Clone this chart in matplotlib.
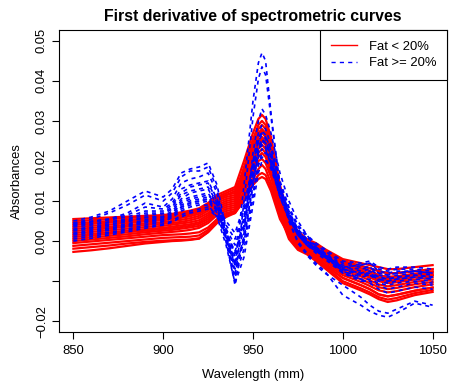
import numpy as np
import matplotlib
matplotlib.use("Agg")
import matplotlib.pyplot as plt

plt.rcParams['font.family'] = ['Liberation Sans', 'DejaVu Sans']

wavelength = [850, 860, 870, 880, 890, 900, 905, 910, 915, 920, 925, 930,
              935, 940, 945, 950, 953, 955, 957, 960, 965,
              970, 975, 980, 985, 990, 1000, 1010, 1015, 1020, 1025, 1030, 1040, 1050]

# first derivative values, in units of 1e-3
# fat < 20%
red_curves = [
    [5.5, 5.7, 5.9, 6.1, 6.3, 6.5, 6.8, 7.2, 7.6, 8.2, 9.5, 11.5, 12.5, 13.5, 20.0, 27.0, 30.5, 31.5, 30.5, 26.0, 14.0, 6.0, 2.5, 0.5, -0.5, -2.0, -4.5, -5.5, -6.0, -6.5, -7.0, -7.0, -6.5, -6.0],
    [5.0, 5.2, 5.5, 5.8, 6.0, 6.2, 6.5, 6.9, 7.3, 7.9, 9.1, 11.0, 12.0, 13.0, 17.0, 23.0, 26.5, 27.5, 26.5, 22.5, 11.5, 5.5, 2.0, 0.0, -1.0, -2.5, -5.0, -6.2, -6.8, -7.5, -8.0, -8.0, -7.5, -7.0],
    [4.5, 4.7, 5.0, 5.3, 5.6, 5.8, 6.1, 6.5, 6.9, 7.5, 8.7, 10.6, 11.5, 12.5, 17.5, 24.5, 28.0, 29.0, 28.0, 24.0, 12.5, 5.0, 1.5, -0.3, -1.5, -3.0, -5.5, -6.8, -7.5, -8.5, -9.0, -8.8, -8.2, -7.6],
    [4.0, 4.3, 4.6, 4.9, 5.2, 5.5, 5.8, 6.2, 6.6, 7.2, 8.5, 10.5, 11.5, 12.0, 18.5, 25.5, 29.0, 30.0, 29.0, 25.0, 13.0, 4.5, 1.0, -0.6, -2.0, -3.5, -6.0, -7.3, -8.1, -9.0, -9.5, -9.3, -8.6, -8.0],
    [3.5, 3.8, 4.1, 4.5, 4.9, 5.2, 5.5, 5.8, 6.2, 6.8, 8.1, 10.1, 11.0, 11.5, 16.0, 22.5, 26.0, 27.0, 26.0, 22.0, 11.0, 5.5, 2.0, 0.0, -1.0, -2.5, -5.0, -6.2, -6.8, -7.5, -8.0, -8.0, -7.5, -7.0],
    [3.0, 3.3, 3.6, 4.0, 4.4, 4.7, 5.0, 5.3, 5.7, 6.3, 7.6, 9.6, 10.5, 11.0, 17.0, 23.5, 27.0, 28.0, 27.0, 23.0, 12.0, 4.0, 0.5, -1.0, -2.5, -4.0, -6.5, -7.8, -8.6, -9.5, -10.0, -9.8, -9.0, -8.5],
    [2.5, 2.8, 3.2, 3.6, 4.0, 4.3, 4.5, 4.8, 5.2, 5.8, 7.0, 9.0, 10.0, 10.5, 15.0, 21.0, 24.0, 25.0, 24.0, 20.0, 10.0, 3.5, 0.0, -1.3, -2.8, -4.3, -7.0, -8.3, -9.1, -10.0, -10.5, -10.3, -9.6, -9.0],
    [2.0, 2.3, 2.7, 3.1, 3.5, 3.8, 4.1, 4.4, 4.7, 5.2, 6.5, 8.5, 9.5, 10.0, 15.5, 22.0, 25.0, 26.0, 25.0, 21.0, 10.5, 5.0, 1.5, -0.3, -1.5, -3.0, -5.5, -6.8, -7.5, -8.5, -9.0, -8.8, -8.2, -7.6],
    [1.5, 1.8, 2.2, 2.6, 3.0, 3.3, 3.6, 3.9, 4.2, 4.7, 6.0, 8.0, 9.0, 9.5, 13.5, 19.0, 22.0, 23.0, 22.0, 18.0, 9.0, 3.0, -0.3, -1.6, -3.2, -4.7, -7.5, -8.8, -9.8, -10.8, -11.3, -11.0, -10.2, -9.6],
    [1.0, 1.4, 1.8, 2.2, 2.6, 3.0, 3.2, 3.5, 3.8, 4.3, 5.5, 7.5, 8.5, 9.0, 14.5, 21.0, 24.5, 25.5, 24.5, 20.5, 10.0, 2.5, -0.7, -2.0, -3.6, -5.1, -8.0, -9.5, -10.5, -11.5, -12.0, -11.7, -10.8, -10.2],
    [0.5, 0.9, 1.3, 1.7, 2.2, 2.6, 2.8, 3.1, 3.4, 3.8, 5.0, 7.0, 8.0, 8.5, 14.0, 20.0, 23.0, 24.0, 23.0, 19.0, 9.5, 4.0, 0.5, -1.0, -2.5, -4.0, -6.5, -7.8, -8.6, -9.5, -10.0, -9.8, -9.0, -8.5],
    [0.0, 0.4, 0.8, 1.2, 1.7, 2.1, 2.3, 2.5, 2.8, 3.3, 4.5, 6.5, 7.5, 8.0, 12.5, 18.0, 21.0, 22.0, 21.0, 17.0, 8.5, 2.0, -1.0, -2.3, -4.0, -5.6, -8.5, -10.2, -11.2, -12.3, -12.8, -12.5, -11.5, -10.8],
    [-0.5, -0.1, 0.3, 0.7, 1.1, 1.5, 1.6, 1.7, 1.9, 2.2, 3.4, 5.5, 7.0, 7.5, 12.0, 17.0, 20.0, 20.5, 19.5, 16.0, 8.0, 1.5, -1.5, -2.7, -4.3, -6.0, -9.2, -11.0, -12.0, -13.3, -13.8, -13.4, -12.4, -11.6],
    [-1.2, -0.8, -0.4, 0.0, 0.4, 0.8, 0.9, 1.0, 1.1, 1.4, 2.8, 5.0, 6.5, 7.5, 11.0, 15.5, 18.0, 19.0, 18.0, 14.5, 7.0, 1.0, -1.8, -3.0, -4.6, -6.4, -10.0, -11.8, -12.8, -14.0, -14.6, -14.2, -13.0, -12.2],
    [-1.9, -1.5, -1.1, -0.6, -0.2, 0.1, 0.2, 0.3, 0.4, 0.7, 2.3, 4.7, 6.5, 7.0, 10.5, 14.5, 16.5, 17.0, 16.5, 13.5, 6.5, 0.5, -2.2, -3.3, -5.0, -6.8, -10.5, -12.3, -13.3, -14.5, -15.2, -14.8, -13.5, -12.7],
    [-2.7, -2.3, -1.8, -1.2, -0.6, -0.2, 0.0, 0.1, 0.3, 0.6, 2.2, 4.5, 6.0, 7.0, 10.0, 14.0, 15.5, 16.0, 15.5, 12.5, 5.5, 1.5, -1.5, -2.7, -4.3, -6.0, -9.2, -11.0, -12.0, -13.3, -13.8, -13.4, -12.4, -11.6],
]

# fat >= 20%
blue_curves = [
    [5.0, 6.0, 7.5, 10.0, 12.5, 11.0, 13.0, 17.0, 18.0, 18.5, 19.5, 14.0, 3.0, -6.0, 14.0, 35.0, 44.5, 47.0, 45.0, 32.0, 13.0, 5.0, 0.0, -3.0, -5.5, -7.5, -13.5, -16.0, -17.5, -18.5, -19.0, -18.0, -15.5, -16.5],
    [4.5, 5.5, 7.0, 9.0, 11.5, 10.0, 12.0, 16.0, 17.5, 17.5, 18.5, 13.0, 1.0, -10.0, 10.0, 31.0, 40.5, 43.5, 41.5, 31.0, 14.0, 5.0, -0.5, -3.5, -6.0, -8.0, -11.0, -14.0, -16.0, -17.5, -18.0, -17.0, -15.0, -16.0],
    [4.0, 4.8, 5.5, 7.0, 9.5, 8.5, 10.5, 14.5, 15.5, 16.0, 17.0, 12.0, 0.0, -11.0, 2.0, 22.0, 30.0, 33.0, 31.5, 27.0, 17.0, 10.0, 5.0, 1.5, -1.5, -3.5, -8.0, -9.5, -10.5, -12.0, -13.0, -12.5, -11.5, -12.0],
    [4.5, 5.0, 5.5, 6.5, 8.5, 8.0, 9.5, 13.0, 14.0, 14.5, 15.0, 10.5, 3.0, -4.0, 6.0, 20.0, 27.0, 29.0, 28.0, 24.0, 15.0, 8.5, 4.0, 1.5, -0.5, -2.0, -5.0, -5.5, -5.0, -6.5, -7.0, -6.5, -6.5, -7.0],
    [3.8, 4.3, 4.8, 5.5, 7.0, 7.0, 8.5, 11.5, 12.5, 13.0, 13.5, 9.5, 2.0, -6.0, 4.0, 18.0, 25.0, 27.0, 26.0, 23.0, 14.0, 8.0, 3.5, 1.0, -1.0, -2.5, -5.5, -6.0, -5.5, -7.0, -7.5, -7.0, -7.0, -7.5],
    [3.0, 3.5, 4.2, 5.0, 6.0, 6.2, 7.5, 10.0, 11.0, 11.5, 12.0, 8.5, 2.5, -3.0, 5.0, 18.0, 25.5, 27.5, 26.5, 22.5, 13.0, 7.0, 2.5, 0.0, -1.5, -3.0, -6.0, -6.5, -6.5, -8.0, -8.5, -8.0, -7.5, -8.0],
    [2.5, 3.0, 3.6, 4.3, 5.3, 5.8, 7.0, 9.0, 10.0, 10.5, 11.0, 8.0, 1.0, -7.0, 1.0, 14.0, 22.0, 25.0, 24.5, 21.5, 13.5, 7.5, 3.0, 0.5, -1.5, -3.0, -6.5, -7.5, -7.0, -8.5, -9.0, -8.5, -8.0, -8.5],
    [2.0, 2.6, 3.2, 4.0, 5.0, 5.5, 6.5, 8.5, 9.5, 10.0, 10.5, 7.5, 1.5, -5.0, 3.0, 16.0, 23.5, 25.5, 24.5, 21.0, 12.5, 6.5, 2.0, -0.5, -2.0, -3.5, -7.0, -8.0, -7.5, -9.0, -9.5, -9.0, -8.5, -9.0],
    [1.5, 2.0, 2.7, 3.5, 4.5, 5.0, 6.0, 8.0, 9.0, 9.5, 10.0, 7.0, 0.0, -9.0, -2.0, 11.0, 19.0, 22.0, 22.0, 20.0, 13.0, 7.0, 2.5, 0.0, -2.0, -3.5, -7.0, -8.5, -8.0, -9.5, -10.0, -9.5, -9.0, -9.5],
    [1.0, 1.6, 2.2, 3.0, 4.0, 4.8, 5.8, 7.5, 8.5, 9.0, 9.0, 6.0, -1.0, -10.5, -4.0, 9.0, 17.0, 20.0, 20.0, 18.5, 12.0, 6.5, 2.0, -0.5, -2.5, -4.0, -7.5, -9.0, -8.5, -10.0, -10.5, -10.0, -9.5, -10.0],
    [0.5, 1.2, 1.9, 2.7, 3.6, 4.3, 5.0, 6.5, 7.5, 8.0, 8.5, 6.5, 3.0, -1.0, 6.0, 17.0, 22.5, 24.0, 23.0, 19.0, 11.0, 5.5, 1.5, -1.0, -2.5, -4.0, -7.5, -9.5, -9.5, -10.5, -11.0, -10.5, -10.0, -10.5],
    [0.0, 0.7, 1.5, 2.3, 3.2, 4.0, 4.7, 6.0, 7.0, 7.5, 8.0, 6.0, 1.0, -6.0, 0.0, 12.0, 19.0, 21.0, 20.5, 18.0, 11.5, 6.0, 1.5, -1.0, -3.0, -4.5, -8.0, -10.0, -10.0, -11.0, -12.0, -11.5, -10.5, -11.0],
    [4.2, 4.8, 5.3, 6.0, 7.5, 7.5, 9.0, 12.0, 13.5, 14.0, 14.5, 10.0, 4.0, 0.5, 8.0, 19.5, 25.0, 26.5, 25.5, 21.0, 12.0, 6.0, 2.0, -0.5, -2.0, -3.5, -6.5, -6.0, -5.5, -7.5, -8.0, -7.5, -7.5, -8.0],
    [2.8, 3.3, 4.0, 4.8, 5.8, 6.0, 7.0, 9.5, 10.5, 11.0, 11.5, 9.0, 5.0, 2.0, 9.0, 19.0, 23.5, 24.5, 23.5, 19.5, 11.0, 5.5, 1.5, -1.0, -2.5, -4.0, -7.0, -8.0, -8.0, -9.0, -9.5, -9.0, -8.5, -9.0],
    [3.5, 4.0, 4.6, 5.3, 6.5, 6.8, 8.0, 10.5, 12.0, 12.5, 13.0, 9.0, 0.5, -8.0, 0.0, 14.0, 22.5, 25.0, 24.5, 21.5, 13.0, 7.0, 2.5, 0.0, -2.0, -3.5, -6.5, -7.0, -6.5, -8.0, -8.5, -8.0, -7.5, -8.0],
    [1.8, 2.3, 3.0, 3.8, 4.8, 5.3, 6.3, 8.5, 9.5, 10.0, 10.5, 7.5, 2.0, -2.5, 4.0, 15.0, 21.0, 23.0, 22.5, 19.5, 12.0, 6.0, 2.0, -0.5, -2.0, -3.5, -7.0, -8.5, -8.5, -9.5, -10.0, -9.5, -9.0, -9.5],
]

fig = plt.figure(figsize=(4.65, 3.87), dpi=100)
ax = fig.add_axes([0.1269, 0.1421, 0.8344, 0.7804])

w = np.array(wavelength)
# red group first, the dashed blue group over it
for c in red_curves:
    ax.plot(w, np.array(c) * 1e-3, color="red", lw=1.6, solid_joinstyle="round")
for c in blue_curves:
    ax.plot(w, np.array(c) * 1e-3, color="blue", lw=1.2, linestyle=(0, (2.4, 2.4)))

ax.set_xlim(842, 1058)
ax.set_ylim(-0.0227, 0.0527)

ax.set_xticks([850, 900, 950, 1000, 1050])
yt = [-0.02, -0.01, 0.0, 0.01, 0.02, 0.03, 0.04, 0.05]
ax.set_yticks(yt)
# R drops the -0.01 label because it would overlap
ax.set_yticklabels(["\u22120.02", "", "0.00", "0.01", "0.02", "0.03", "0.04", "0.05"],
                   rotation=90, va="center")
ax.tick_params(axis="both", labelsize=9.4, length=5, width=0.8, direction="out")
ax.tick_params(axis="y", pad=3)
ax.tick_params(axis="x", pad=4)
for s in ax.spines.values():
    s.set_linewidth(0.8)

ax.set_title("First derivative of spectrometric curves", fontsize=11.4,
             fontweight="bold", pad=6.5)
ax.set_xlabel("Wavelength (mm)", fontsize=9.4, labelpad=9)
ax.set_ylabel("Absorbances", fontsize=9.4, labelpad=9)

h1, = ax.plot([], [], color="red", lw=1.0)
h2, = ax.plot([], [], color="blue", lw=1.0, linestyle=(0, (3, 3)))
leg = ax.legend([h1, h2], ["Fat < 20%", "Fat >= 20%"], loc="upper right",
                fontsize=9.4, frameon=True, fancybox=False, edgecolor="black",
                framealpha=1, borderaxespad=0, handlelength=2.0,
                borderpad=0.8, handletextpad=0.95, labelspacing=0.35)
leg.get_frame().set_linewidth(0.8)

fig.savefig("out.png", dpi=100)
